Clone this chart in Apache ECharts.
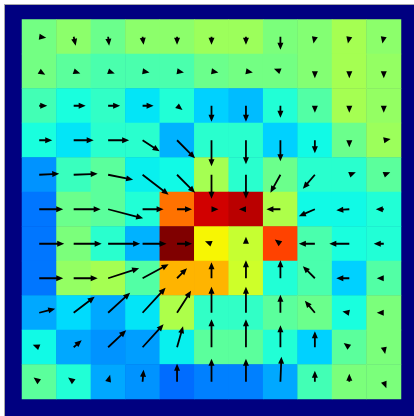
<!DOCTYPE html>
<html>
<head>
<meta charset="utf-8">
<script src="https://cdn.jsdelivr.net/npm/echarts@6/dist/echarts.min.js"></script>
<style>
  html, body { margin: 0; padding: 0; background: #fff; }
  #chart { width: 414px; height: 416px; }
</style>
</head>
<body>
<div id="chart"></div>
<script>
// grid categories
const cols = ['0', '1', '2', '3', '4', '5', '6', '7', '8', '9', '10'];
const rows = ['0', '1', '2', '3', '4', '5', '6', '7', '8', '9', '10'];

// cell values (0..1 on the jet scale), row by row from the top
const cellValues = [
  [0.49, 0.52, 0.48, 0.52, 0.52, 0.54, 0.54, 0.50, 0.51, 0.55, 0.52],
  [0.49, 0.46, 0.44, 0.44, 0.44, 0.48, 0.49, 0.49, 0.51, 0.55, 0.53],
  [0.43, 0.38, 0.41, 0.35, 0.39, 0.33, 0.31, 0.39, 0.45, 0.55, 0.53],
  [0.38, 0.35, 0.40, 0.40, 0.30, 0.40, 0.40, 0.33, 0.37, 0.48, 0.54],
  [0.27, 0.42, 0.46, 0.36, 0.37, 0.55, 0.40, 0.48, 0.40, 0.40, 0.46],
  [0.24, 0.48, 0.46, 0.39, 0.79, 0.93, 0.95, 0.56, 0.37, 0.37, 0.39],
  [0.24, 0.50, 0.40, 0.30, 1.00, 0.65, 0.59, 0.84, 0.44, 0.38, 0.39],
  [0.24, 0.53, 0.55, 0.45, 0.72, 0.72, 0.60, 0.39, 0.44, 0.33, 0.45],
  [0.29, 0.34, 0.29, 0.35, 0.56, 0.41, 0.41, 0.46, 0.48, 0.38, 0.50],
  [0.37, 0.29, 0.27, 0.28, 0.36, 0.46, 0.46, 0.39, 0.33, 0.46, 0.50],
  [0.46, 0.39, 0.29, 0.27, 0.23, 0.25, 0.25, 0.29, 0.43, 0.50, 0.50]
];

// arrow components (right / down), row by row from the top
const arrowDx = [
  [7, 2, 1, 1, 0, 0, 0, 0, -1, -1, -1],
  [5, 6, 6, 6, 6, 6, 5, -5, 0, 0, 0],
  [8, 12, 12, 11, 5, 0, 0, 0, 0, 0, 0],
  [13, 20, 21, 17, 18, 0, 0, 0, 0, 0, 5],
  [20, 24, 25, 26, 18, 0, 0, -10, -12, 5, 5],
  [24, 27, 35, 21, 15, 5, -5, -14, -16, -13, -8],
  [25, 28, 32, 24, 15, -5, 0, -4, -16, -20, -10],
  [24, 24, 31, 26, 10, 0, 0, 0, -12, -13, -6],
  [16, 21, 22, 23, 14, 0, 0, 0, -10, -5, -5],
  [-5, 8, 18, 21, 6, 0, 0, 0, 0, -4, 1],
  [-4, -4, 2, 1, 0, 0, 0, 1, 0, 0, 2]
];
const arrowDy = [
  [1, 9, 9, 8, 8, 8, 8, 13, 5, 5, 5],
  [3, 2, 2, 1, 1, 1, 1, -2, 6, 6, 6],
  [0, 0, 0, 0, 4, 16, 16, 12, 6, 6, 6],
  [0, 0, 0, 11, 18, 26, 24, 21, 13, 6, -1],
  [-1, -1, 5, 20, 18, 24, 24, 18, 14, -2, -2],
  [0, 0, 9, 0, 0, 0, 0, 0, 7, 1, 0],
  [0, 0, 0, 0, 0, -2, -6, -3, 0, 0, 0],
  [0, 0, -10, -14, -10, -16, -18, -18, -12, 0, 0],
  [-4, -16, -20, -25, -22, -26, -26, -18, -12, -1, 0],
  [-2, -7, -17, -23, -21, -28, -28, -22, -16, -3, 5],
  [-3, -3, -7, -12, -18, -23, -23, -25, -11, -8, 5]
];

// matplotlib-style jet colormap
function jet(t) {
  const clip = (v) => Math.max(0, Math.min(1, v));
  const r = t < 0.89 ? clip((t - 0.35) / 0.31) : 1 - (t - 0.89) / 0.11 * 0.5;
  const g = t < 0.64 ? clip((t - 0.125) / 0.25) : clip(1 - (t - 0.64) / 0.27);
  const b = t < 0.34 ? clip(0.5 + t / 0.11 * 0.5) : clip(1 - (t - 0.34) / 0.31);
  const hex = (v) => Math.round(clip(v) * 255).toString(16).padStart(2, '0');
  return '#' + hex(r) + hex(g) + hex(b);
}
const jetColors = [];
for (let i = 0; i <= 64; i++) jetColors.push(jet(i / 64));

const heatData = [];
const arrowData = [];
rows.forEach((r, i) => {
  cols.forEach((c, j) => {
    heatData.push([j, i, cellValues[i][j]]);
    arrowData.push([j, i, arrowDx[i][j], arrowDy[i][j]]);
  });
});

const REF_CELL = 34.45;

function renderArrow(params, api) {
  const p = api.coord([api.value(0), api.value(1)]);
  const size = api.size([1, 1]);
  const k = size[0] / REF_CELL;
  const dx = api.value(2) * k;
  const dy = api.value(3) * k;
  let L = Math.sqrt(dx * dx + dy * dy);
  if (L < 0.5) return null;
  const ux = dx / L, uy = dy / L;
  const nx = -uy, ny = ux;
  const hl = 7 * k, hw = 6 * k;
  const sw = 1.8 * k;
  // short vectors are drawn as a bare head
  if (L < hl) L = hl;
  const s = L - hl;
  const pt = (a, b) => [p[0] + ux * a + nx * b, p[1] + uy * a + ny * b];
  const pts = s < 1
    ? [pt(0, hw / 2), pt(L, 0), pt(0, -hw / 2)]
    : [pt(0, sw / 2), pt(s, sw / 2), pt(s, hw / 2), pt(L, 0),
       pt(s, -hw / 2), pt(s, -sw / 2), pt(0, -sw / 2)];
  return {
    type: 'polygon',
    shape: { points: pts },
    style: { fill: '#000000' }
  };
}

const chart = echarts.init(document.getElementById('chart'));
const option = {
  backgroundColor: '#ffffff',
  animation: false,
  graphic: [
    { type: 'rect', z: -10, shape: { x: 5, y: 5, width: 409, height: 411 }, style: { fill: '#000080' } },
    { type: 'line', z: -10, shape: { x1: 4.5, y1: 4, x2: 4.5, y2: 416 }, style: { stroke: '#a8a8a8', lineWidth: 1 } },
    { type: 'line', z: -10, shape: { x1: 4, y1: 4.5, x2: 414, y2: 4.5 }, style: { stroke: '#a8a8a8', lineWidth: 1 } }
  ],
  grid: { left: 22, top: 19.5, width: 379, height: 379.5 },
  xAxis: {
    type: 'category', data: cols, show: false
  },
  yAxis: {
    type: 'category', data: rows, inverse: true, show: false
  },
  visualMap: {
    show: false, min: 0, max: 1, seriesIndex: 0, dimension: 2,
    inRange: { color: jetColors }
  },
  series: [
    {
      type: 'heatmap',
      data: heatData,
      itemStyle: { borderWidth: 0 },
      emphasis: { disabled: true }
    },
    {
      type: 'custom',
      renderItem: renderArrow,
      data: arrowData,
      encode: { x: 0, y: 1 },
      z: 5,
      silent: true
    }
  ]
};
chart.setOption(option);
</script>
</body>
</html>
